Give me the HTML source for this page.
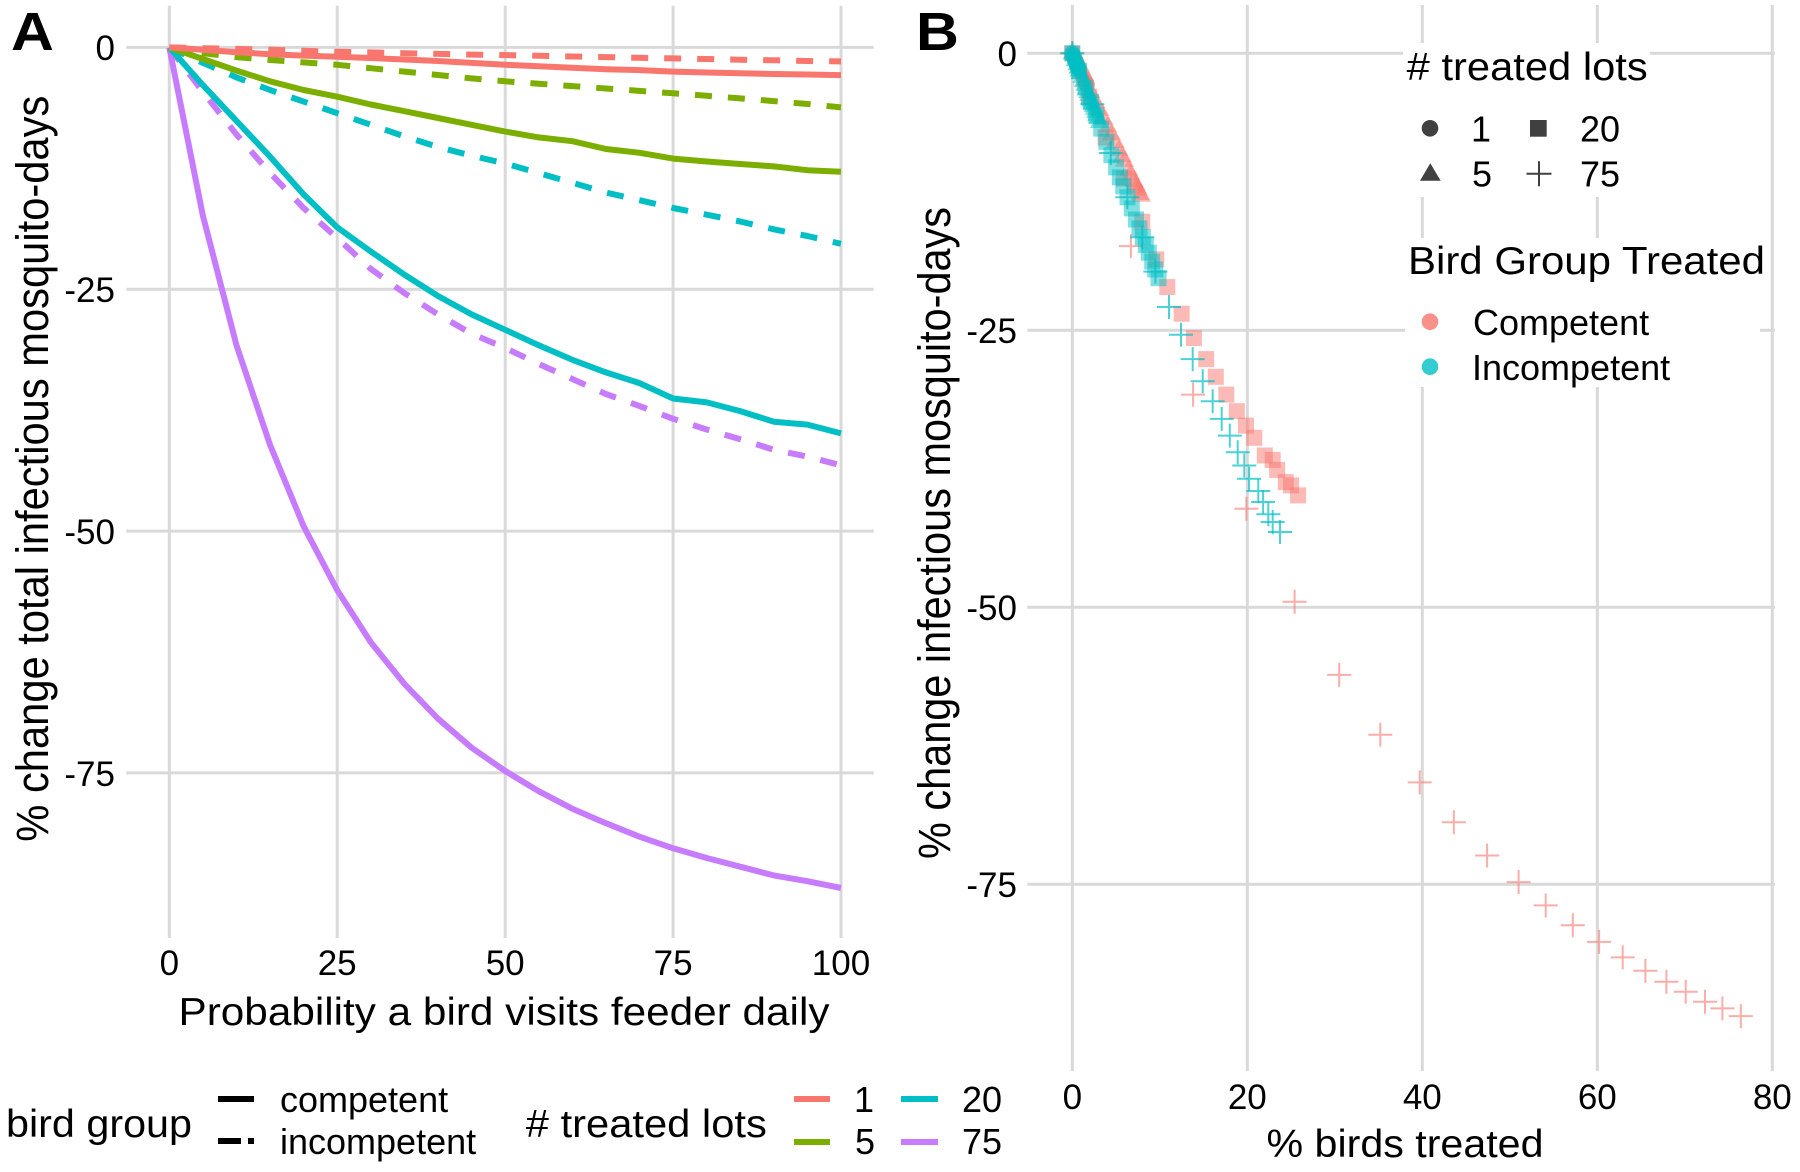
<!DOCTYPE html>
<html>
<head>
<meta charset="utf-8">
<style>
html,body{margin:0;padding:0;background:#fff;}
svg{display:block;}
text{font-family:"Liberation Sans",Arial,sans-serif;fill:#000;}
</style>
</head>
<body>
<svg xmlns="http://www.w3.org/2000/svg" width="1800" height="1172" viewBox="0 0 1800 1172">
<defs>
  <rect id="sq" x="-8" y="-8" width="16" height="16"/>
  <path id="tr" d="M0,-10.5 L9.5,6 L-9.5,6 Z"/>
  <circle id="ci" cx="0" cy="0" r="8"/>
  <path id="pl" d="M-12,0H12M0,-12V12"/>
</defs>
<rect x="0" y="0" width="1800" height="1172" fill="#fff"/>

<!-- ================= PANEL A ================= -->
<g stroke="#d9d9d9" stroke-width="3" fill="none">
  <line x1="169.3" y1="5.7" x2="169.3" y2="938"/>
  <line x1="337.2" y1="5.7" x2="337.2" y2="938"/>
  <line x1="505.2" y1="5.7" x2="505.2" y2="938"/>
  <line x1="673.1" y1="5.7" x2="673.1" y2="938"/>
  <line x1="841.0" y1="5.7" x2="841.0" y2="938"/>
  <line x1="126.3" y1="47.4" x2="873.7" y2="47.4"/>
  <line x1="126.3" y1="289.2" x2="873.7" y2="289.2"/>
  <line x1="126.3" y1="531.1" x2="873.7" y2="531.1"/>
  <line x1="126.3" y1="772.9" x2="873.7" y2="772.9"/>
</g>

<g fill="none" stroke-width="6" stroke-linejoin="round">
  <!-- purple (75) -->
  <polyline stroke="#C77CFF" points="169.3,47.4 202.9,215.7 236.5,345.3 270.1,445.0 303.6,526.2 337.2,590.1 370.8,642.3 404.4,683.9 438.0,718.7 471.6,747.7 505.2,771.0 538.7,791.2 572.3,808.7 605.9,823.2 639.5,836.7 673.1,848.3 706.7,858.0 740.2,866.7 773.8,875.4 807.4,881.2 841.0,888.0"/>
  <polyline stroke="#C77CFF" stroke-dasharray="17 16" points="169.3,47.4 202.9,91.9 236.5,134.5 270.1,173.1 303.6,208.0 337.2,238.0 370.8,268.9 404.4,293.1 438.0,314.4 471.6,333.7 505.2,348 538.7,364 572.3,379 605.9,394 639.5,406 673.1,418.8 706.7,429.5 740.2,439.2 773.8,449.8 807.4,456.6 841.0,465.3"/>
  <!-- cyan (20) -->
  <polyline stroke="#00BFC4" points="169.3,47.4 202.9,85.1 236.5,120.9 270.1,156.7 303.6,194.4 337.2,227.3 370.8,251.5 404.4,274.7 438.0,296.0 471.6,314.4 505.2,329.8 538.7,345.3 572.3,359.8 605.9,372.4 639.5,383.1 673.1,398.5 706.7,402.4 740.2,411.1 773.8,421.7 807.4,424.6 841.0,433.4"/>
  <polyline stroke="#00BFC4" stroke-dasharray="17 16" points="169.3,47.4 202.9,62.9 236.5,77.4 270.1,90.0 303.6,101.6 337.2,113.2 370.8,124.8 404.4,136.4 438.0,147.0 471.6,155.7 505.2,163.5 538.7,173.1 572.3,182.8 605.9,192.5 639.5,200.2 673.1,208.0 706.7,214.7 740.2,221.5 773.8,229.3 807.4,236.0 841.0,243.8"/>
  <!-- green (5) -->
  <polyline stroke="#7CAE00" points="169.3,47.4 202.9,59.0 236.5,70.6 270.1,81.3 303.6,90.0 337.2,96.7 370.8,104.5 404.4,111.2 438.0,118.0 471.6,124.8 505.2,131.6 538.7,137.4 572.3,141.2 605.9,149.0 639.5,152.8 673.1,158.6 706.7,161.5 740.2,164.0 773.8,166.4 807.4,170.2 841.0,171.7"/>
  <polyline stroke="#7CAE00" stroke-dasharray="17 16" points="169.3,47.4 202.9,53.2 236.5,57.1 270.1,60.0 303.6,62.4 337.2,64.8 370.8,68.2 404.4,71.6 438.0,75.0 471.6,78.4 505.2,81.3 538.7,83.7 572.3,86.1 605.9,88.5 639.5,90.9 673.1,93.3 706.7,95.8 740.2,98.4 773.8,101.1 807.4,104.0 841.0,107.4"/>
  <!-- red (1) -->
  <polyline stroke="#F8766D" points="169.3,47.4 202.9,49.8 236.5,52.2 270.1,54.2 303.6,55.6 337.2,56.7 370.8,58.0 404.4,59.5 438.0,61.0 471.6,62.9 505.2,64.8 538.7,66.3 572.3,67.7 605.9,69.2 639.5,70.1 673.1,71.6 706.7,72.5 740.2,73.3 773.8,74.0 807.4,74.5 841.0,75.1"/>
  <polyline stroke="#F8766D" stroke-dasharray="17 16" points="169.3,47.4 202.9,48.2 236.5,48.9 270.1,49.8 303.6,50.8 337.2,51.8 370.8,52.4 404.4,53.2 438.0,53.9 471.6,54.6 505.2,55.1 538.7,55.8 572.3,56.5 605.9,57.1 639.5,57.8 673.1,58.4 706.7,59.0 740.2,59.7 773.8,60.3 807.4,61.0 841.0,61.4"/>
</g>

<!-- A label -->
<text transform="translate(11,50) scale(1.1,1)" font-size="54" font-weight="bold">A</text>

<!-- A y ticks -->
<g font-size="35" text-anchor="end">
  <text x="115" y="60">0</text>
  <text x="115" y="302">-25</text>
  <text x="115" y="544">-50</text>
  <text x="115" y="786">-75</text>
</g>
<!-- A x ticks -->
<g font-size="35" text-anchor="middle">
  <text x="169.3" y="975">0</text>
  <text x="337.2" y="975">25</text>
  <text x="505.2" y="975">50</text>
  <text x="673.1" y="975">75</text>
  <text x="841.0" y="975">100</text>
</g>
<text x="504" y="1025" font-size="39" text-anchor="middle" textLength="651" lengthAdjust="spacingAndGlyphs">Probability a bird visits feeder daily</text>
<text transform="translate(48,468.7) rotate(-90) scale(1,1.1)" font-size="41" text-anchor="middle" textLength="746" lengthAdjust="spacingAndGlyphs">% change total infectious mosquito-days</text>

<!-- A legend -->
<text x="6" y="1137" font-size="39" textLength="186" lengthAdjust="spacingAndGlyphs">bird group</text>
<rect x="218" y="1096" width="36" height="6" fill="#000"/>
<rect x="218" y="1138" width="23" height="6" fill="#000"/>
<rect x="248" y="1138" width="6" height="6" fill="#000"/>
<text x="280" y="1112" font-size="36">competent</text>
<text x="280" y="1154" font-size="36">incompetent</text>
<text x="525.8" y="1137" font-size="39" textLength="241" lengthAdjust="spacingAndGlyphs"># treated lots</text>
<rect x="794" y="1096" width="36" height="6" fill="#F8766D"/>
<rect x="901" y="1096" width="37" height="6" fill="#00BFC4"/>
<rect x="794" y="1139" width="36" height="6" fill="#7CAE00"/>
<rect x="901" y="1139" width="37" height="6" fill="#C77CFF"/>
<text x="854" y="1112" font-size="36">1</text>
<text x="962" y="1112" font-size="36">20</text>
<text x="855" y="1154" font-size="36">5</text>
<text x="962" y="1154" font-size="36">75</text>

<!-- ================= PANEL B ================= -->
<g stroke="#d9d9d9" stroke-width="3" fill="none">
  <line x1="1072.3" y1="5" x2="1072.3" y2="1071"/>
  <line x1="1247.3" y1="5" x2="1247.3" y2="1071"/>
  <line x1="1422.3" y1="5" x2="1422.3" y2="1071"/>
  <line x1="1597.3" y1="5" x2="1597.3" y2="1071"/>
  <line x1="1772.3" y1="5" x2="1772.3" y2="1071"/>
  <line x1="1027.4" y1="53.3" x2="1775" y2="53.3"/>
  <line x1="1027.4" y1="330.3" x2="1775" y2="330.3"/>
  <line x1="1027.4" y1="607.3" x2="1775" y2="607.3"/>
  <line x1="1027.4" y1="884.3" x2="1775" y2="884.3"/>
</g>

<!-- red (competent) markers -->
<g fill="#F8766D" fill-opacity="0.5">
  <use href="#ci" x="1072.3" y="53.3"/><use href="#ci" x="1074.9" y="58.8"/><use href="#ci" x="1076.7" y="62.7"/>
  <use href="#ci" x="1078.0" y="65.5"/><use href="#ci" x="1079.5" y="68.8"/><use href="#ci" x="1081.6" y="73.2"/>
  <use href="#ci" x="1083.1" y="76.6"/><use href="#ci" x="1084.4" y="79.3"/><use href="#ci" x="1085.7" y="82.1"/>
  <use href="#ci" x="1086.5" y="83.8"/><use href="#ci" x="1087.0" y="85.0"/>
  <use href="#tr" x="1072.3" y="53.3"/><use href="#tr" x="1078.7" y="66.6"/><use href="#tr" x="1085.2" y="79.9"/>
  <use href="#tr" x="1091.1" y="92.1"/><use href="#tr" x="1095.9" y="102.1"/><use href="#tr" x="1099.7" y="109.8"/>
  <use href="#tr" x="1104.0" y="118.7"/><use href="#tr" x="1107.7" y="126.4"/><use href="#tr" x="1111.5" y="134.2"/>
  <use href="#tr" x="1115.3" y="141.9"/><use href="#tr" x="1119.0" y="149.7"/><use href="#tr" x="1122.2" y="156.3"/>
  <use href="#tr" x="1124.4" y="160.8"/><use href="#tr" x="1128.7" y="169.6"/><use href="#tr" x="1130.8" y="174.1"/>
  <use href="#tr" x="1134.1" y="180.7"/><use href="#tr" x="1135.7" y="184.0"/><use href="#tr" x="1137.0" y="186.8"/>
  <use href="#tr" x="1138.4" y="189.6"/><use href="#tr" x="1140.5" y="194.0"/><use href="#tr" x="1141.3" y="195.7"/>
  <use href="#sq" x="1072.3" y="53.3"/><use href="#sq" x="1088.9" y="96.5"/><use href="#sq" x="1105.5" y="137.5"/>
  <use href="#sq" x="1123.9" y="178.5"/><use href="#sq" x="1142.3" y="221.7"/><use href="#sq" x="1156.3" y="259.4"/>
  <use href="#sq" x="1167.3" y="287.1"/><use href="#sq" x="1181.7" y="313.7"/><use href="#sq" x="1193.9" y="338.1"/>
  <use href="#sq" x="1206.2" y="359.1"/><use href="#sq" x="1215.8" y="376.8"/><use href="#sq" x="1226.3" y="394.6"/>
  <use href="#sq" x="1236.8" y="411.2"/><use href="#sq" x="1246.0" y="425.6"/><use href="#sq" x="1254.3" y="437.8"/>
  <use href="#sq" x="1264.8" y="455.5"/><use href="#sq" x="1272.7" y="459.9"/><use href="#sq" x="1277.1" y="469.9"/>
  <use href="#sq" x="1285.8" y="482.1"/><use href="#sq" x="1291.1" y="485.4"/><use href="#sq" x="1298.1" y="495.4"/>
</g>
<g stroke="#F8766D" stroke-opacity="0.6" stroke-width="2" fill="none">
  <use href="#pl" x="1072.3" y="53.3"/><use href="#pl" x="1130.9" y="246.1"/><use href="#pl" x="1193.1" y="394.6"/>
  <use href="#pl" x="1246.4" y="508.7"/><use href="#pl" x="1294.6" y="601.8"/><use href="#pl" x="1339.2" y="674.9"/>
  <use href="#pl" x="1380.3" y="734.7"/><use href="#pl" x="1419.7" y="782.4"/><use href="#pl" x="1453.8" y="822.3"/>
  <use href="#pl" x="1487.1" y="855.5"/><use href="#pl" x="1518.6" y="882.1"/><use href="#pl" x="1545.7" y="905.4"/>
  <use href="#pl" x="1572.8" y="925.3"/><use href="#pl" x="1599.1" y="941.9"/><use href="#pl" x="1622.7" y="957.4"/>
  <use href="#pl" x="1645.4" y="970.7"/><use href="#pl" x="1666.4" y="981.8"/><use href="#pl" x="1685.7" y="991.8"/>
  <use href="#pl" x="1705.0" y="1001.8"/><use href="#pl" x="1722.4" y="1008.4"/><use href="#pl" x="1740.8" y="1016.1"/>
</g>

<!-- cyan (incompetent) markers -->
<g fill="#00BFC4" fill-opacity="0.5">
  <use href="#ci" x="1072.3" y="53.3"/><use href="#ci" x="1073.0" y="55.0"/><use href="#ci" x="1073.8" y="57.2"/>
  <use href="#ci" x="1074.6" y="59.1"/><use href="#ci" x="1075.2" y="60.7"/><use href="#ci" x="1075.8" y="62.2"/>
  <use href="#ci" x="1076.4" y="63.7"/><use href="#ci" x="1077.0" y="65.2"/><use href="#ci" x="1077.6" y="66.6"/>
  <use href="#ci" x="1078.1" y="68.0"/><use href="#ci" x="1078.6" y="69.4"/>
  <use href="#tr" x="1072.3" y="53.3"/><use href="#tr" x="1074.9" y="60.0"/><use href="#tr" x="1076.7" y="64.4"/>
  <use href="#tr" x="1078.0" y="67.7"/><use href="#tr" x="1079.1" y="70.5"/><use href="#tr" x="1080.2" y="73.2"/>
  <use href="#tr" x="1081.7" y="77.1"/><use href="#tr" x="1083.2" y="81.0"/><use href="#tr" x="1084.8" y="84.9"/>
  <use href="#tr" x="1086.3" y="88.8"/><use href="#tr" x="1087.6" y="92.1"/><use href="#tr" x="1088.7" y="94.9"/>
  <use href="#tr" x="1089.8" y="97.6"/><use href="#tr" x="1090.9" y="100.4"/><use href="#tr" x="1092.0" y="103.2"/>
  <use href="#tr" x="1093.1" y="105.9"/><use href="#tr" x="1094.2" y="108.7"/><use href="#tr" x="1095.4" y="111.7"/>
  <use href="#tr" x="1096.6" y="114.8"/><use href="#tr" x="1097.9" y="118.1"/><use href="#tr" x="1099.4" y="122.0"/>
  <use href="#sq" x="1072.3" y="53.3"/><use href="#sq" x="1079.1" y="71.0"/><use href="#sq" x="1085.4" y="87.6"/>
  <use href="#sq" x="1091.0" y="102.1"/><use href="#sq" x="1096.1" y="115.3"/><use href="#sq" x="1101.2" y="128.6"/>
  <use href="#sq" x="1106.3" y="141.9"/><use href="#sq" x="1111.4" y="155.2"/><use href="#sq" x="1116.1" y="167.4"/>
  <use href="#sq" x="1119.9" y="177.4"/><use href="#sq" x="1123.3" y="186.3"/><use href="#sq" x="1127.5" y="197.3"/>
  <use href="#sq" x="1131.8" y="208.4"/><use href="#sq" x="1136.0" y="219.5"/><use href="#sq" x="1139.4" y="228.4"/>
  <use href="#sq" x="1142.8" y="237.2"/><use href="#sq" x="1145.8" y="245.0"/><use href="#sq" x="1148.8" y="252.7"/>
  <use href="#sq" x="1152.2" y="261.6"/><use href="#sq" x="1155.2" y="269.4"/><use href="#sq" x="1158.5" y="278.2"/>
</g>
<g stroke="#00BFC4" stroke-opacity="0.7" stroke-width="2" fill="none">
  <use href="#pl" x="1072.3" y="53.3"/><use href="#pl" x="1092.4" y="104.3"/><use href="#pl" x="1110.8" y="153.0"/>
  <use href="#pl" x="1127.4" y="197.3"/><use href="#pl" x="1142.3" y="237.2"/><use href="#pl" x="1155.4" y="271.6"/>
  <use href="#pl" x="1169.0" y="307.0"/><use href="#pl" x="1181.0" y="334.7"/><use href="#pl" x="1192.7" y="359.1"/>
  <use href="#pl" x="1202.7" y="381.3"/><use href="#pl" x="1212.7" y="401.2"/><use href="#pl" x="1221.7" y="418.9"/>
  <use href="#pl" x="1229.8" y="435.6"/><use href="#pl" x="1237.7" y="452.2"/><use href="#pl" x="1244.3" y="465.5"/>
  <use href="#pl" x="1249.1" y="478.8"/><use href="#pl" x="1258.3" y="491.0"/><use href="#pl" x="1263.1" y="502.0"/>
  <use href="#pl" x="1268.3" y="514.2"/><use href="#pl" x="1272.7" y="522.0"/><use href="#pl" x="1280.0" y="532.0"/>
</g>

<!-- B label -->
<text transform="translate(916,50) scale(1.1,1)" font-size="54" font-weight="bold">B</text>

<!-- B y ticks -->
<g font-size="35" text-anchor="end">
  <text x="1017" y="66">0</text>
  <text x="1017" y="343">-25</text>
  <text x="1017" y="620">-50</text>
  <text x="1017" y="897">-75</text>
</g>
<!-- B x ticks -->
<g font-size="35" text-anchor="middle">
  <text x="1072.3" y="1109">0</text>
  <text x="1247.3" y="1109">20</text>
  <text x="1422.3" y="1109">40</text>
  <text x="1597.3" y="1109">60</text>
  <text x="1772.3" y="1109">80</text>
</g>
<text x="1405" y="1157" font-size="39" text-anchor="middle" textLength="277" lengthAdjust="spacingAndGlyphs">% birds treated</text>
<text transform="translate(950,533) rotate(-90) scale(1,1.1)" font-size="41" text-anchor="middle" textLength="652" lengthAdjust="spacingAndGlyphs">% change infectious mosquito-days</text>

<!-- B legend -->
<rect x="1403" y="43" width="247" height="154" fill="#fff"/>
<rect x="1405" y="238" width="355" height="149" fill="#fff"/>
<text x="1406.7" y="80" font-size="39" textLength="241" lengthAdjust="spacingAndGlyphs"># treated lots</text>
<circle cx="1430" cy="128.3" r="8.3" fill="#404040"/>
<text x="1471" y="141.7" font-size="36">1</text>
<rect x="1530" y="120" width="16.7" height="16.7" fill="#404040"/>
<text x="1580" y="141.7" font-size="36">20</text>
<path d="M1430.3,163.3 L1440.7,180.7 L1420,180.7 Z" fill="#404040"/>
<text x="1472" y="186.7" font-size="36">5</text>
<path d="M1526.5,173.7H1551.5M1539,161.2V186.2" stroke="#404040" stroke-width="2" fill="none"/>
<text x="1580" y="186.7" font-size="36">75</text>

<text x="1408" y="274" font-size="39" textLength="357" lengthAdjust="spacingAndGlyphs">Bird Group Treated</text>
<circle cx="1430" cy="321.7" r="8.3" fill="#F8766D" fill-opacity="0.8"/>
<text x="1473" y="335" font-size="36">Competent</text>
<circle cx="1430" cy="366.7" r="8.3" fill="#00BFC4" fill-opacity="0.8"/>
<text x="1472" y="380" font-size="36">Incompetent</text>
</svg>
</body>
</html>
